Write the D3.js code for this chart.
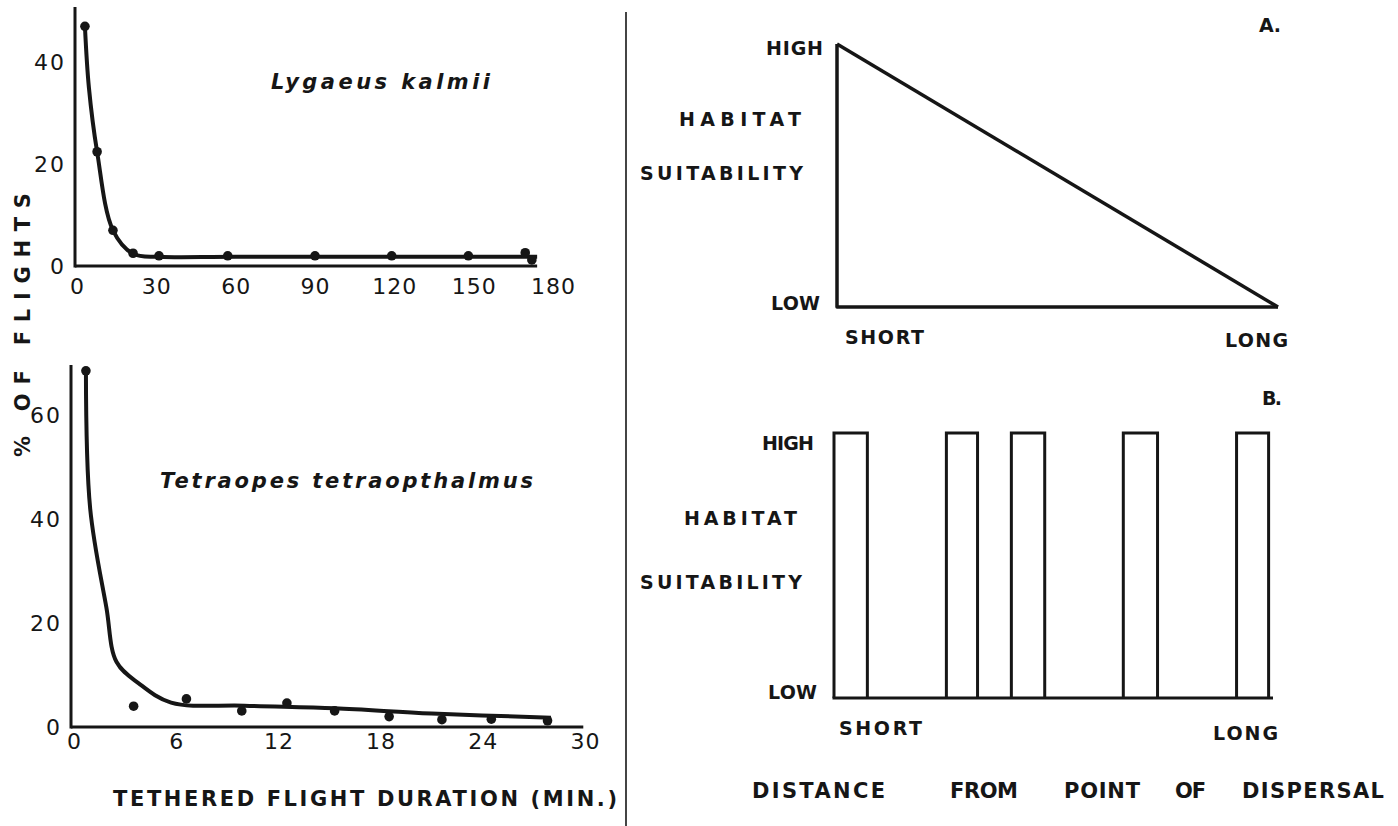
<!DOCTYPE html>
<html lang="en">
<head>
<meta charset="UTF-8">
<title>Tethered flight duration and habitat suitability</title>
<script src="https://d3js.org/d3.v7.min.js"></script>
<style>
  body{margin:0;background:#fff;}
  svg{display:block;}
  text{fill:#161616;font-family:"DejaVu Sans",Verdana,sans-serif;}
</style>
</head>
<body>
<script>
// Lygaeus kalmii: tethered flight duration (min) vs % of flights
const lygaeusMin = [3.0, 7.6, 13.6, 21.2, 31.0, 57, 90, 119, 148, 169.5, 172];
const lygaeusPct = [47, 22.4, 7, 2.5, 2, 2, 2, 2, 2, 2.6, 1.2];
// hand drawn fitted curve
const lygaeusCurveMin = [3.0, 4.5, 7.6, 13.6, 21.2, 31, 60, 174];
const lygaeusCurvePct = [47, 35, 22.4, 7, 2.4, 1.8, 1.8, 1.8];
const lygaeusXTicks = [0, 30, 60, 90, 120, 150, 180];
const lygaeusYTicks = [0, 20, 40];

// Tetraopes tetraopthalmus
const tetraopesMin = [0.7, 3.5, 6.6, 9.85, 12.5, 15.3, 18.5, 21.6, 24.5, 27.8];
const tetraopesPct = [68.5, 4.0, 5.4, 3.1, 4.6, 3.1, 2.0, 1.4, 1.5, 1.2];
const tetraopesCurveMin = [0.7, 0.95, 1.9, 2.5, 3.8, 5.7, 10, 15.3, 21, 28];
const tetraopesCurvePct = [68.5, 42, 23, 12.5, 8.4, 4.7, 4.1, 3.6, 2.6, 1.8];
const tetraopesXTicks = [0, 6, 12, 18, 24, 30];
const tetraopesYTicks = [0, 20, 40, 60];

// model A: suitability falls off linearly with distance
const gradientDistance = [0, 1];
const gradientSuitability = [1, 0];
// model B: patches of high suitability (start, end distance)
const patchStart = [0, 0.256, 0.404, 0.659, 0.917];
const patchEnd = [0.076, 0.327, 0.48, 0.737, 0.99];
const suitabilityLevels = ["LOW", "HIGH"];
const distanceLevels = ["SHORT", "LONG"];

const ink = "#161616";
const width = 1398, height = 826;
const svg = d3.select("body").append("svg")
    .attr("width", width)
    .attr("height", height);

function label(str, x0, x1, cy, size, weight, style) {
    return svg.append("text")
        .attr("x", x0)
        .attr("y", cy + size * 0.36)
        .attr("textLength", x1 - x0)
        .attr("lengthAdjust", "spacing")
        .style("font-size", size + "px")
        .style("font-weight", weight || "bold")
        .style("font-style", style || "normal")
        .text(str);
}

function axisText(g, size, spacing) {
    g.select(".domain").remove();
    g.selectAll("text")
        .style("font-size", size + "px")
        .style("font-family", "\"DejaVu Sans\",Verdana,sans-serif")
        .style("letter-spacing", spacing + "px")
        .attr("fill", ink);
}

function flightPanel(o) {
    const x = d3.scaleLinear().domain(o.xDomain).range(o.xRange);
    const y = d3.scaleLinear().domain(o.yDomain).range(o.yRange);
    const g = svg.append("g");

    // axes lines
    g.append("line")
        .attr("x1", o.axisX).attr("x2", o.axisX)
        .attr("y1", y(o.yTop)).attr("y2", y(0) + 1.5)
        .attr("stroke", ink).attr("stroke-width", 3);
    g.append("line")
        .attr("x1", o.axisX).attr("x2", x(o.xEnd))
        .attr("y1", y(0)).attr("y2", y(0))
        .attr("stroke", ink).attr("stroke-width", 3.2);

    g.append("g")
        .attr("transform", `translate(0,${y(0)})`)
        .call(d3.axisBottom(x).tickValues(o.xTicks).tickSize(0).tickPadding(o.xPad))
        .call(a => axisText(a, 22, 1));
    g.append("g")
        .attr("transform", `translate(${o.axisX},0)`)
        .call(d3.axisLeft(y).tickValues(o.yTicks).tickSize(0).tickPadding(9))
        .call(a => axisText(a, 22, 2));

    const curve = d3.zip(o.curveX, o.curveY);
    g.append("path")
        .datum(curve)
        .attr("fill", "none")
        .attr("stroke", ink)
        .attr("stroke-width", 4)
        .attr("stroke-linejoin", "round")
        .attr("d", d3.line().x(d => x(d[0])).y(d => y(d[1])).curve(d3.curveCatmullRom.alpha(0.5)));

    g.selectAll("circle")
        .data(d3.zip(o.ptX, o.ptY))
        .join("circle")
        .attr("cx", d => x(d[0]))
        .attr("cy", d => y(d[1]))
        .attr("r", 4.8)
        .attr("fill", ink);
}

flightPanel({
    xDomain: [0, 180], xRange: [77, 553],
    yDomain: [0, 40], yRange: [266, 62],
    axisX: 75, yTop: 50.8, xEnd: 174, xPad: 12,
    xTicks: lygaeusXTicks, yTicks: lygaeusYTicks,
    curveX: lygaeusCurveMin, curveY: lygaeusCurvePct,
    ptX: lygaeusMin, ptY: lygaeusPct
});
flightPanel({
    xDomain: [0, 30], xRange: [74, 585],
    yDomain: [0, 60], yRange: [727, 415],
    axisX: 71, yTop: 69.6, xEnd: 29.9, xPad: 6,
    xTicks: tetraopesXTicks, yTicks: tetraopesYTicks,
    curveX: tetraopesCurveMin, curveY: tetraopesCurvePct,
    ptX: tetraopesMin, ptY: tetraopesPct
});

label("Lygaeus kalmii", 271, 490, 81, 21, "bold", "italic");
label("Tetraopes tetraopthalmus", 160, 533, 480, 21, "bold", "italic");
label("TETHERED  FLIGHT  DURATION  (MIN.)", 113, 617, 798, 21, "bold");

svg.append("text")
    .attr("transform", `translate(${22 + 0.36 * 21},325) rotate(-90)`)
    .attr("x", -132)
    .attr("textLength", 264)
    .attr("lengthAdjust", "spacing")
    .style("font-size", "21px")
    .style("font-weight", "bold")
    .text("% OF FLIGHTS");

// divider
svg.append("line")
    .attr("x1", 626).attr("x2", 626)
    .attr("y1", 12).attr("y2", height)
    .attr("stroke", ink).attr("stroke-width", 1.6);

// panel A
const xA = d3.scaleLinear().domain([0, 1]).range([837, 1278]);
const yA = d3.scaleLinear().domain([0, 1]).range([307, 44]);
const gA = svg.append("g")
    .attr("fill", "none").attr("stroke", ink)
    .attr("stroke-width", 3.5).attr("stroke-linejoin", "round");
gA.append("path")
    .attr("d", d3.line()([[xA(0), yA(1)], [xA(0), yA(0)], [xA(1), yA(0)]]));
gA.append("path")
    .datum(d3.zip(gradientDistance, gradientSuitability))
    .attr("d", d3.line().x(d => xA(d[0])).y(d => yA(d[1])));

label("A.", 1259, 1281, 25, 19);
label(suitabilityLevels[1], 766, 823, 48, 19);
label(suitabilityLevels[0], 771, 820, 303, 19);
label("HABITAT", 679, 801, 119, 19);
label("SUITABILITY", 640, 803, 173, 19);
label(distanceLevels[0], 845, 924, 337, 19);
label(distanceLevels[1], 1225, 1288, 340, 19);

// panel B
const xB = d3.scaleLinear().domain([0, 1]).range([834, 1273]);
const yB = d3.scaleLinear().domain([0, 1]).range([698, 433]);
const gB = svg.append("g")
    .attr("fill", "none").attr("stroke", ink)
    .attr("stroke-width", 3).attr("stroke-linejoin", "miter");
gB.selectAll("path.patch")
    .data(d3.zip(patchStart, patchEnd))
    .join("path")
    .attr("class", "patch")
    .attr("d", d => d3.line()([[xB(d[0]), yB(0)], [xB(d[0]), yB(1)], [xB(d[1]), yB(1)], [xB(d[1]), yB(0)]]));
gB.append("line")
    .attr("x1", xB(0) - 1.5).attr("x2", xB(1))
    .attr("y1", yB(0)).attr("y2", yB(0));

label("B.", 1262, 1282, 398, 19);
label(suitabilityLevels[1], 762, 814, 443, 19);
label(suitabilityLevels[0], 768, 817, 692, 19);
label("HABITAT", 684, 797, 518, 19);
label("SUITABILITY", 640, 802, 582, 19);
label(distanceLevels[0], 839, 922, 728, 19);
label(distanceLevels[1], 1213, 1278, 733, 19);

label("DISTANCE", 752, 885, 790, 21);
label("FROM", 950, 1018, 790, 21);
label("POINT", 1064, 1140, 790, 21);
label("OF", 1175, 1206, 790, 21);
label("DISPERSAL", 1242, 1384, 790, 21);
</script>
</body>
</html>
